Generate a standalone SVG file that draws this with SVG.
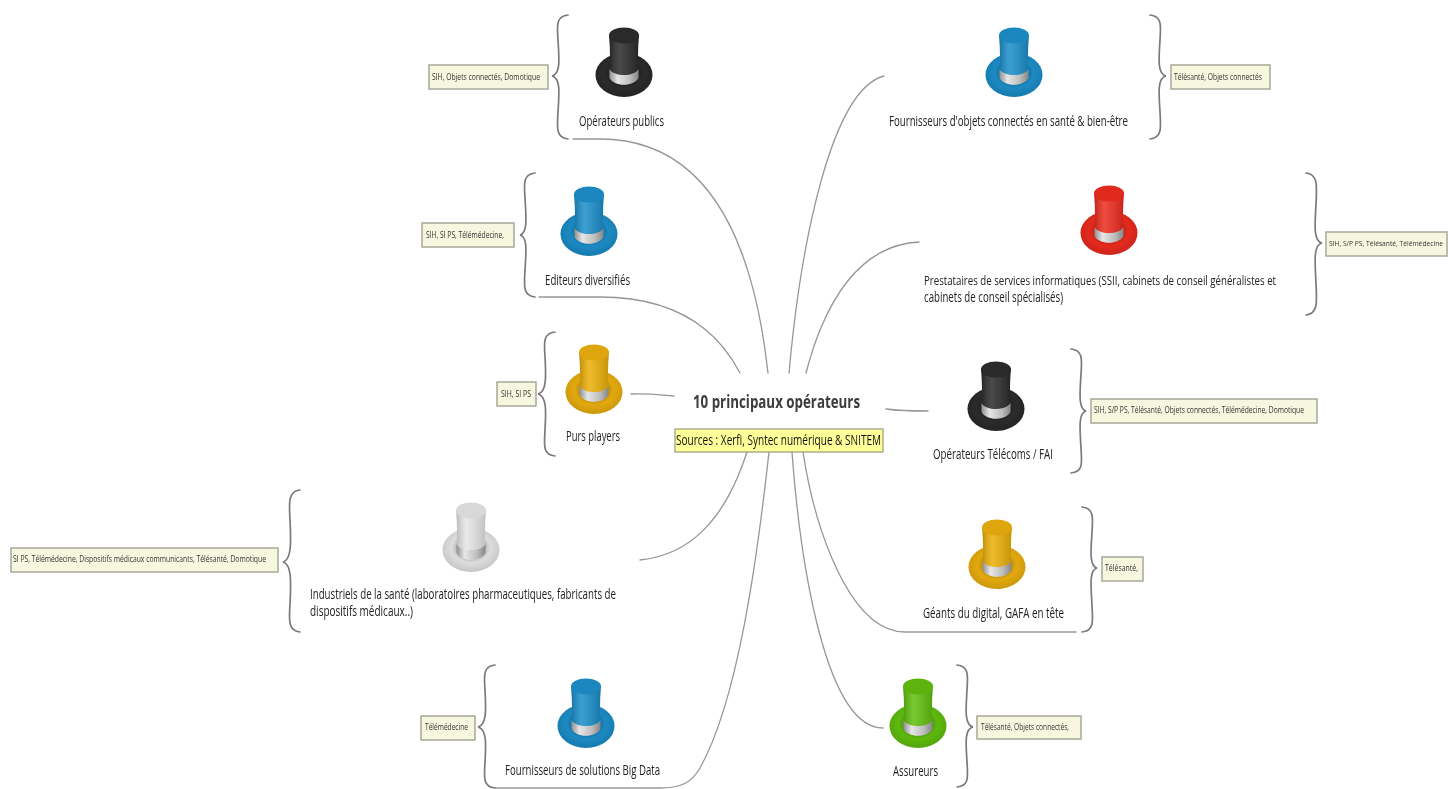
<svg xmlns="http://www.w3.org/2000/svg" xmlns:xlink="http://www.w3.org/1999/xlink" width="1448" height="789" viewBox="0 0 1448 789">
<style>
text{font-family:"Open Sans","Liberation Sans",sans-serif;fill:#222}
.lbl{font-size:14.5px}
.lbl2{font-size:13.5px}
.note{font-size:9.5px;fill:#333}
.note2{font-size:8px;fill:#333}
.box{fill:#f7f7e0;stroke:#a8a898;stroke-width:1.5}
.brace{fill:none;stroke:#7a7a7a;stroke-width:1.7;stroke-linecap:round}
.conn{fill:none;stroke:#969696;stroke-width:1.3;stroke-linecap:round}
.black{color:#2c2c2c}.blue{color:#1c8fca}.gold{color:#ecb00a}.red{color:#ee2c20}.green{color:#62c010}.white{color:#e6e6e6}
</style>
<defs>
<filter id="soft" filterUnits="userSpaceOnUse" x="0" y="0" width="1448" height="789"><feGaussianBlur stdDeviation="0.4"/></filter>
<radialGradient id="brimShade" cx="0.5" cy="0.45" r="0.55">
<stop offset="0.3" stop-color="#000" stop-opacity="0.32"/>
<stop offset="0.62" stop-color="#000" stop-opacity="0.04"/>
<stop offset="1" stop-color="#000" stop-opacity="0.14"/>
</radialGradient>
<linearGradient id="crownShade" x1="0" x2="1" y1="0" y2="0">
<stop offset="0" stop-color="#000" stop-opacity="0.2"/>
<stop offset="0.35" stop-color="#fff" stop-opacity="0.14"/>
<stop offset="1" stop-color="#000" stop-opacity="0.16"/>
</linearGradient>
<linearGradient id="bandFill" x1="0" x2="1" y1="0" y2="0">
<stop offset="0" stop-color="#8e8e8e"/>
<stop offset="0.28" stop-color="#e6e6e6"/>
<stop offset="0.7" stop-color="#bdbdbd"/>
<stop offset="1" stop-color="#858585"/>
</linearGradient>
<g id="hat">
<ellipse cx="0" cy="0" rx="28.5" ry="22" fill="currentColor"/>
<ellipse cx="0" cy="0" rx="28.5" ry="22" fill="url(#brimShade)"/>
<path d="M-15 -40 C-13.5 -25 -14 -12 -14.5 3 C-10 12 10 12 14.5 3 C14 -12 13.5 -25 15 -40 Z" fill="currentColor"/>
<path d="M-15 -40 C-13.5 -25 -14 -12 -14.5 3 C-10 12 10 12 14.5 3 C14 -12 13.5 -25 15 -40 Z" fill="url(#crownShade)"/>
<ellipse cx="0" cy="-39.5" rx="15" ry="8" fill="currentColor"/>
<ellipse cx="0" cy="-39.5" rx="15" ry="8" fill="#000" fill-opacity="0.06"/>
<path d="M-14.6 -6 C-10 2 10 2 14.6 -6 L14.5 3 C10 12 -10 12 -14.5 3 Z" fill="url(#bandFill)"/>
</g>
</defs>
<rect width="1448" height="789" fill="#fff"/>
<g filter="url(#soft)">
<g id="connectors">
<path class="conn" d="M573 139 L600 139 C690 139 750 210 768 373"/>
<path class="conn" d="M539 297 L600 297 C670 297 715 325 740 373"/>
<path class="conn" d="M884 76 C830 90 800 250 789 373"/>
<path class="conn" d="M919 242 C860 245 825 300 806 373"/>
<path class="conn" d="M631 394 C650 393 660 395 674 396"/>
<path class="conn" d="M886 409 C900 411 915 411 928 411"/>
<path class="conn" d="M747 452 C725 520 690 555 640 560"/>
<path class="conn" d="M769 452 C757 560 738 700 700 768 C692 782 682 788 660 788 L495 788"/>
<path class="conn" d="M803 452 C815 530 850 632 905 632 L1076 632"/>
<path class="conn" d="M792 452 C800 560 825 728 883 728"/>
</g>
<g id="center">
<text x="693" y="408" font-size="18" font-weight="700" textLength="167" lengthAdjust="spacingAndGlyphs" style="fill:#3c3c3c">10 principaux opérateurs</text>
<rect x="675" y="429" width="208" height="23" fill="#ffff99" stroke="#a0a080" stroke-width="1.3"/>
<text x="676" y="445" font-size="14" textLength="205" lengthAdjust="spacingAndGlyphs" style="fill:#111">Sources : Xerfi, Syntec numérique &amp; SNITEM</text>
</g>
<g id="operateurs-publics">
<use xlink:href="#hat" href="#hat" class="black" x="624" y="75"/>
<text class="lbl" x="579" y="126" textLength="85" lengthAdjust="spacingAndGlyphs">Opérateurs publics</text>
<path class="brace" d="M568 15 C556 16 557 26 558 40 C559 58 561 74 552 76 C561 78 559 94 558 112 C557 128 556 138 568 139"/>
<rect class="box" x="429" y="65" width="119" height="24"/>
<text class="note" x="432" y="80" textLength="108" lengthAdjust="spacingAndGlyphs">SIH, Objets connectés, Domotique</text>
</g>
<g id="fournisseurs-objets">
<use xlink:href="#hat" href="#hat" class="blue" x="1014" y="75"/>
<text class="lbl" x="889" y="126" textLength="239" lengthAdjust="spacingAndGlyphs">Fournisseurs d'objets connectés en santé &amp; bien-être</text>
<path class="brace" d="M1150 15 C1162 16 1161 26 1160 40 C1159 58 1157 74 1166 76 C1157 78 1159 94 1160 112 C1161 128 1162 138 1150 139"/>
<rect class="box" x="1171" y="65" width="99" height="24"/>
<text class="note" x="1174" y="80" textLength="88" lengthAdjust="spacingAndGlyphs">Télésanté, Objets connectés</text>
</g>
<g id="editeurs-diversifies">
<use xlink:href="#hat" href="#hat" class="blue" x="589" y="234"/>
<text class="lbl" x="545" y="285" textLength="85" lengthAdjust="spacingAndGlyphs">Editeurs diversifiés</text>
<path class="brace" d="M535 173 C523 174 524 184 525 198 C526 216 528 233 520 235 C528 237 526 252 525 270 C524 286 523 296 535 297"/>
<rect class="box" x="422" y="223" width="92" height="24"/>
<text class="note" x="426" y="238" textLength="78" lengthAdjust="spacingAndGlyphs">SIH, SI PS, Télémédecine,</text>
</g>
<g id="prestataires">
<use xlink:href="#hat" href="#hat" class="red" x="1109" y="233"/>
<text class="lbl2" x="924" y="285" textLength="352" lengthAdjust="spacingAndGlyphs">Prestataires de services informatiques (SSII, cabinets de conseil généralistes et</text>
<text class="lbl" x="924" y="302" textLength="139" lengthAdjust="spacingAndGlyphs">cabinets de conseil spécialisés)</text>
<path class="brace" d="M1306 173 C1318 174 1317 186 1316 204 C1315 224 1313 241 1322 243 C1313 245 1315 262 1316 284 C1317 302 1318 314 1306 315"/>
<rect class="box" x="1326" y="232" width="121" height="24"/>
<text class="note2" x="1329" y="246" textLength="114" lengthAdjust="spacingAndGlyphs">SIH, S/P PS, Télésanté, Télémédecine</text>
</g>
<g id="purs-players">
<use xlink:href="#hat" href="#hat" class="gold" x="594" y="392"/>
<text class="lbl" x="566" y="441" textLength="54" lengthAdjust="spacingAndGlyphs">Purs players</text>
<path class="brace" d="M555 332 C543 333 544 343 545 357 C546 375 547 392 538 394 C547 396 546 412 545 430 C544 446 543 455 555 456"/>
<rect class="box" x="497" y="382" width="39" height="24"/>
<text class="note" x="501" y="397" textLength="30" lengthAdjust="spacingAndGlyphs">SIH, SI PS</text>
</g>
<g id="operateurs-telecoms">
<use xlink:href="#hat" href="#hat" class="black" x="996" y="409"/>
<text class="lbl" x="933" y="459" textLength="120" lengthAdjust="spacingAndGlyphs">Opérateurs Télécoms / FAI</text>
<path class="brace" d="M1071 349 C1083 350 1082 360 1081 374 C1080 392 1078 409 1086 411 C1078 413 1080 430 1081 448 C1082 464 1083 472 1071 473"/>
<rect class="box" x="1091" y="399" width="226" height="24"/>
<text class="note" x="1094" y="413" textLength="210" lengthAdjust="spacingAndGlyphs">SIH, S/P PS, Télésanté, Objets connectés, Télémédecine, Domotique</text>
</g>
<g id="industriels">
<use xlink:href="#hat" href="#hat" class="white" x="471" y="550"/>
<text class="lbl" x="310" y="599" textLength="306" lengthAdjust="spacingAndGlyphs">Industriels de la santé (laboratoires pharmaceutiques,  fabricants de</text>
<text class="lbl" x="310" y="616" textLength="103" lengthAdjust="spacingAndGlyphs">dispositifs médicaux..)</text>
<path class="brace" d="M300 490 C288 491 289 503 290 520 C291 540 292 560 283 562 C292 564 291 584 290 604 C289 620 288 631 300 632"/>
<rect class="box" x="11" y="548" width="267" height="24"/>
<text class="note" x="13" y="562" textLength="253" lengthAdjust="spacingAndGlyphs">SI PS, Télémédecine, Dispositifs médicaux communicants, Télésanté, Domotique</text>
</g>
<g id="geants">
<use xlink:href="#hat" href="#hat" class="gold" x="997" y="567"/>
<text class="lbl" x="923" y="618" textLength="141" lengthAdjust="spacingAndGlyphs">Géants du digital, GAFA en tête</text>
<path class="brace" d="M1082 507 C1094 508 1093 518 1092 532 C1091 550 1089 566 1097 568 C1089 570 1091 586 1092 606 C1093 622 1094 631 1082 632"/>
<rect class="box" x="1102" y="557" width="41" height="24"/>
<text class="note" x="1105" y="571" textLength="33" lengthAdjust="spacingAndGlyphs">Télésanté,</text>
</g>
<g id="big-data">
<use xlink:href="#hat" href="#hat" class="blue" x="586" y="726"/>
<text class="lbl" x="505" y="775" textLength="155" lengthAdjust="spacingAndGlyphs">Fournisseurs de solutions Big Data</text>
<path class="brace" d="M495 665 C483 666 484 676 485 690 C486 708 487 725 478 727 C487 729 486 745 485 762 C484 778 483 787 495 788"/>
<rect class="box" x="421" y="716" width="54" height="24"/>
<text class="note" x="425" y="730" textLength="43" lengthAdjust="spacingAndGlyphs">Télémédecine</text>
</g>
<g id="assureurs">
<use xlink:href="#hat" href="#hat" class="green" x="918" y="726"/>
<text class="lbl" x="893" y="776" textLength="45" lengthAdjust="spacingAndGlyphs">Assureurs</text>
<path class="brace" d="M957 665 C969 666 968 676 967 690 C966 708 964 725 973 727 C964 729 966 745 967 762 C968 778 969 786 957 787"/>
<rect class="box" x="977" y="716" width="104" height="23"/>
<text class="note" x="981" y="730" textLength="88" lengthAdjust="spacingAndGlyphs">Télésanté, Objets connectés,</text>
</g>
</g>
</svg>
